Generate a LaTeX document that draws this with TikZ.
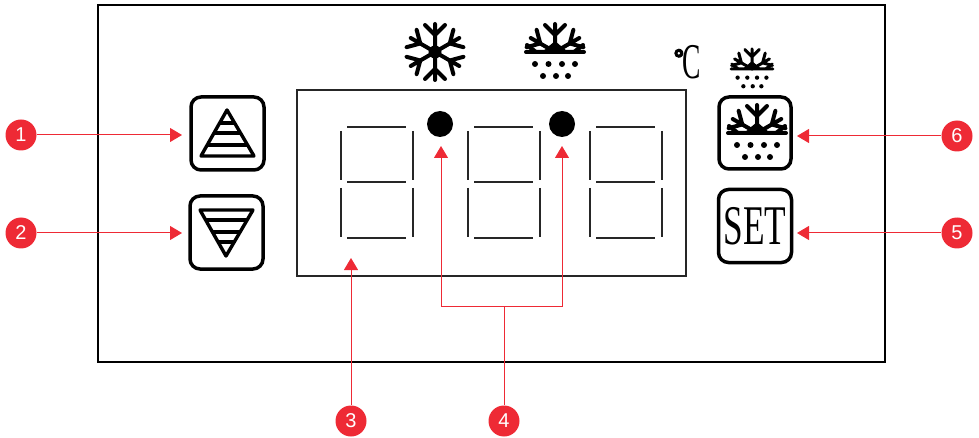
\documentclass[tikz,border=0pt]{standalone}
\usepackage{fontspec}
\newfontfamily\numfont{Liberation Sans}
\newfontfamily\setfont{Liberation Serif}
\newfontfamily\degfont[FakeBold=5]{DejaVu Sans Bold}
\usetikzlibrary{arrows.meta}
\definecolor{callred}{HTML}{EE2A35}
\newcommand\flakearms[1]{
    \foreach \a in {#1}
        \draw[rotate=\a,line cap=round] (0,0)--(28,0) (17,0)--(27,10) (17,0)--(27,-10);
}
\tikzset{
    frameline/.style={line width=1.8pt,black},
    button/.style={draw,line width=3.5pt,rounded corners=10pt,minimum width=73pt,minimum height=73pt,inner sep=0pt},
    callnum/.style={circle,fill=callred,text=white,minimum size=31pt,inner sep=0pt,font=\numfont\fontsize{20}{20}\selectfont},
    callout/.style={callred,line width=1pt},
    callarrow/.style={callout,-{Triangle[length=12pt,width=14pt]}},
    seg/.style={line width=1.3pt,black!85},
    pics/fullflake/.style={code={
        \flakearms{30,90,150,210,270,330}
        \fill (0,0) circle (6.5);
    }},
    pics/halfflake/.style={code={
        \flakearms{30,90,150}
        \draw[line cap=round] (-29,0)--(29,0) (-19,0)--(-28,-7) (19,0)--(28,-7);
        \fill (-13,0)--(0,-11)--(13,0)--cycle;
        \foreach \x in {-20,-6.5,7,20} \fill (\x,12) circle (3);
        \foreach \x in {-12,1,13} \fill (\x,24) circle (3);
    }},
}
\begin{document}
\begin{tikzpicture}[x=1pt,y=-1pt]
    \useasboundingbox (0,0) rectangle (979,438);
    \draw[frameline] (98,5) rectangle (885,362);
    \draw[line width=1.2pt,black!85] (297,90) rectangle (686,276);
    % digits
    \foreach \dx in {0,127,249} {
        \begin{scope}[xshift=\dx pt]
            \draw[seg] (341,131)--(341,180) (341,188)--(341,237)
                       (413,131)--(413,180) (413,188)--(413,237)
                       (347,127)--(406,127) (347,182)--(406,182) (347,238)--(406,238);
        \end{scope}
    }
    \node[circle,fill=black,minimum size=26pt,inner sep=0pt] (dotl) at (440,124) {};
    \node[circle,fill=black,minimum size=26pt,inner sep=0pt] (dotr) at (562,124) {};
    % buttons
    \node[button] (btnup) at (227.5,133.5) {};
    \node[button] (btndown) at (226.5,232.5) {};
    \node[button,minimum width=72pt,minimum height=72pt] (btnsnow) at (755,133) {};
    \node[button] (btnset) at (755,226) {\setfont\fontsize{56}{56}\selectfont\scalebox{.63}[1]{SET}};
    \begin{scope}[line width=3.4pt,line join=round]
        \draw (227,110)--(254,156)--(201,156)--cycle;
        \draw (226,256)--(253,210)--(200,210)--cycle;
        \clip (227,110)--(254,156)--(201,156)--cycle (226,256)--(253,210)--(200,210)--cycle;
        \foreach \y in {123,133,145,220,232,242} \draw (195,\y)--(260,\y);
    \end{scope}
    % symbols
    \begin{scope}[line width=4pt]
        \pic at (435,52) {fullflake};
        \pic at (555,52) {halfflake};
        \pic at (757,133) {halfflake};
    \end{scope}
    \begin{scope}[line width=3pt]
        \pic[scale=.72] at (752,69) {halfflake};
    \end{scope}
    \node[inner sep=0pt] (degc) at (687,62) {\setfont\fontsize{50}{50}\selectfont\raisebox{11pt}{\degfont\fontsize{24}{24}\selectfont °}\hspace{-2pt}\scalebox{.55}[1]{C}};
    % callouts
    \node[callnum] (numa) at (21,135) {1};
    \node[callnum] (numb) at (21,233) {2};
    \node[callnum] (numc) at (351,421) {3};
    \node[callnum] (numd) at (504,421) {4};
    \node[callnum] (nume) at (957,233) {5};
    \node[callnum] (numf) at (957,136) {6};
    \coordinate (tipa) at (182,135);
    \coordinate (tipb) at (182,233);
    \coordinate (tipc) at (351,258);
    \coordinate (tipdl) at (441,146);
    \coordinate (tipdr) at (562,146);
    \coordinate (tipe) at (797,233);
    \coordinate (tipf) at (797,136);
    \coordinate (joind) at (504,306);
    \draw[callarrow] (numa)--(tipa);
    \draw[callarrow] (numb)--(tipb);
    \draw[callarrow] (numc)--(tipc);
    \draw[callarrow] (nume)--(tipe);
    \draw[callarrow] (numf)--(tipf);
    \draw[callout] (numd)--(joind);
    \draw[callarrow] (joind)-|(tipdl);
    \draw[callarrow] (joind)-|(tipdr);
\end{tikzpicture}
\end{document}
